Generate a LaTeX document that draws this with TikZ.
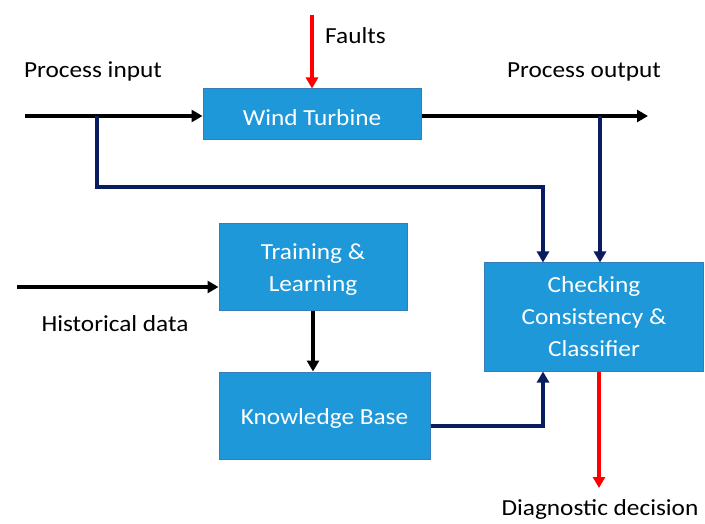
\documentclass[tikz,border=0pt]{standalone}
\usepackage{fontspec}
\setmainfont{Carlito}
\usetikzlibrary{arrows.meta,calc}
\definecolor{boxfill}{RGB}{30,152,216}
\definecolor{boxedge}{RGB}{52,125,185}
\definecolor{navy}{RGB}{10,28,96}
\newcommand{\wtxt}[1]{\scalebox{1.1}[1]{\begin{tabular}{@{}c@{}}#1\end{tabular}}}
\newcommand{\dn}[2]{\raisebox{-#1}[\height][\depth]{#2}}
\tikzset{
  blk/.style={draw=boxedge, line width=1pt, fill=boxfill, text=white, inner sep=0pt,
    font=\fontsize{23}{32}\selectfont},
  lbl/.style={font=\fontsize{23}{26}\selectfont, inner sep=0pt},
  tip/.style={-{Triangle[length=11pt,width=12pt]}},
  blackline/.style={line width=3.8pt, black, tip},
  navyline/.style={line width=3.6pt, navy, tip},
  redline/.style={line width=3.6pt, red, tip},
}
\begin{document}
\begin{tikzpicture}[x=1pt,y=-1pt]
\useasboundingbox (0,0) rectangle (705,524);
\node[blk, minimum width=218pt, minimum height=51pt] (wt) at (312,114.5) {\dn{5pt}{\wtxt{Wind Turbine}}};
\node[blk, minimum width=188pt, minimum height=86pt] (tl) at (313,267) {\dn{2pt}{\wtxt{Training \&\\Learning}}};
\node[blk, minimum width=211pt, minimum height=87pt] (kb) at (324.5,415.5) {\dn{3pt}{\wtxt{Knowledge Base}}};
\node[blk, minimum width=219pt, minimum height=108pt] (cc) at (594,317) {\dn{1.5pt}{\wtxt{Checking\\Consistency \&\\Classifier}}};

\node[lbl, anchor=west] (fl) at (325,38) {\wtxt{Faults}};
\node[lbl] (pin) at (93,72) {\wtxt{Process input}};
\node[lbl] (pout) at (584,72) {\wtxt{Process output}};
\node[lbl] (hdl) at (115,326) {\wtxt{Historical data}};
\node[lbl] (dd) at (600,510) {\wtxt{Diagnostic decision}};

\coordinate (inS) at (25,116);
\coordinate (outE) at (648,116);
\coordinate (brA) at (97,116);
\coordinate (brB) at (600,116);
\coordinate (fS) at (312,15);
\coordinate (hS) at (17,287);
\coordinate (dE) at (599,488);

\draw[blackline] (inS) -- (inS -| wt.west);
\draw[blackline] (inS -| wt.east) -- (outE);
\draw[redline] (fS) -- (wt.north);
\draw[navyline] (brA) -- (97,187) -- (543,187) -- (543,0 |- cc.north);
\draw[navyline] (brB) -- (brB |- cc.north);
\draw[blackline] (hS) -- (hS -| tl.west);
\draw[blackline] (tl.south) -- (tl.south |- kb.north);
\draw[navyline] (kb.east |- 0,426) -- (543,426) -- (543,0 |- cc.south);
\draw[redline] (dE |- cc.south) -- (dE);
\end{tikzpicture}
\end{document}
